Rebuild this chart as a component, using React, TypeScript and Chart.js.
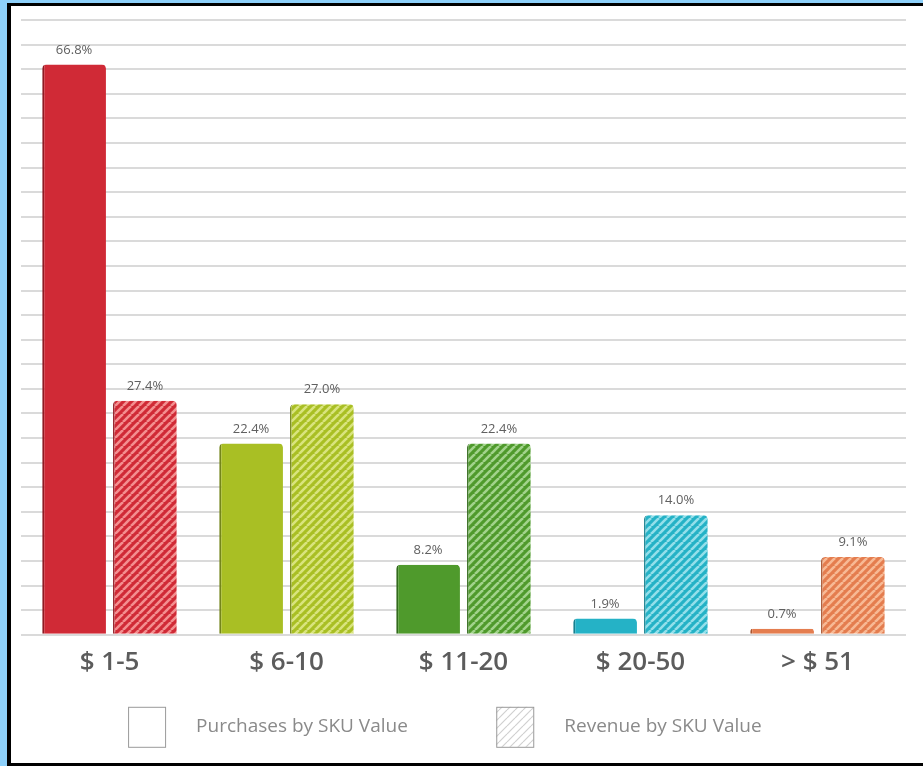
import React, { useEffect, useRef } from "react";
import { Chart, registerables } from "chart.js";

Chart.register(...registerables);

const categories = ["$ 1-5", "$ 6-10", "$ 11-20", "$ 20-50", "> $ 51"];
const purchases = [66.8, 22.4, 8.2, 1.9, 0.7];
const revenue = [27.4, 27.0, 22.4, 14.0, 9.1];
const seriesNames = ["Purchases by SKU Value", "Revenue by SKU Value"];

const baseColors = ["#d02a36", "#a9bf24", "#4f9a2c", "#25b2c6", "#e47d4f"];
const stripeColors = ["#f38f90", "#d9e47e", "#a2d38c", "#94dfea", "#f7b995"];
const edgeColors = ["#8e1a22", "#74851a", "#326a1c", "#17808f", "#a9552f"];

const Y_MAX = 72;
const GRID_STEPS = 25;

function hatch(base: string, stripe: string, lw: number, size = 9): CanvasPattern | string {
  const c = document.createElement("canvas");
  c.width = size;
  c.height = size;
  const ctx = c.getContext("2d");
  if (!ctx) return base;
  ctx.fillStyle = base;
  ctx.fillRect(0, 0, size, size);
  ctx.strokeStyle = stripe;
  ctx.lineWidth = lw;
  for (const off of [-size, 0, size]) {
    ctx.beginPath();
    ctx.moveTo(off, size);
    ctx.lineTo(off + size, 0);
    ctx.stroke();
  }
  return ctx.createPattern(c, "repeat") || base;
}

export default function App() {
  const ref = useRef<HTMLCanvasElement | null>(null);

  useEffect(() => {
    if (!ref.current) return;
    const revPatterns = baseColors.map((b, i) => hatch(b, stripeColors[i], 2.6, 8));
    const legendPattern = hatch("#ffffff", "#d0d0d0", 1.2, 8);

    const valueLabels = {
      id: "valueLabels",
      afterDatasetsDraw(chart: any) {
        const ctx = chart.ctx;
        ctx.save();
        ctx.font = "13px 'Open Sans'";
        ctx.fillStyle = "#606060";
        ctx.textAlign = "center";
        ctx.textBaseline = "bottom";
        chart.data.datasets.forEach((ds: any, di: number) => {
          const meta = chart.getDatasetMeta(di);
          meta.data.forEach((el: any, i: number) => {
            const v = ds.data[i] as number;
            ctx.fillText(v.toFixed(1) + "%", el.x, el.y - 8);
          });
        });
        ctx.restore();
      },
    };

    const customLegend = {
      id: "customLegend",
      afterDraw(chart: any) {
        const ctx = chart.ctx;
        const a = chart.chartArea;
        const w = a.right - a.left;
        const top = a.bottom + 72;
        const bw = 37;
        const bh = 40;
        const xs = [a.left + w * 0.121, a.left + w * 0.537];
        ctx.save();
        xs.forEach((x, i) => {
          ctx.fillStyle = i === 0 ? "#ffffff" : legendPattern;
          ctx.fillRect(x, top, bw, bh);
          ctx.strokeStyle = "#9a9a9a";
          ctx.lineWidth = 1;
          ctx.strokeRect(x + 0.5, top + 0.5, bw, bh);
          ctx.font = "19px 'Open Sans'";
          ctx.fillStyle = "#8a8a8a";
          ctx.textAlign = "left";
          ctx.textBaseline = "middle";
          ctx.fillText(seriesNames[i], x + bw + 31, top + bh / 2);
        });
        ctx.restore();
      },
    };

    const chart = new Chart(ref.current, {
      type: "bar",
      data: {
        labels: categories,
        datasets: [
          {
            label: seriesNames[0],
            data: purchases,
            backgroundColor: baseColors,
            borderColor: edgeColors,
            borderWidth: { left: 2, top: 0, right: 0, bottom: 0 },
            borderRadius: { topLeft: 4, topRight: 4, bottomLeft: 0, bottomRight: 0 },
            borderSkipped: false,
            categoryPercentage: 0.8,
            barPercentage: 0.9,
          },
          {
            label: seriesNames[1],
            data: revenue,
            backgroundColor: revPatterns as any,
            borderColor: edgeColors,
            borderWidth: { left: 1.5, top: 0, right: 0, bottom: 0 },
            borderRadius: { topLeft: 4, topRight: 4, bottomLeft: 0, bottomRight: 0 },
            borderSkipped: false,
            categoryPercentage: 0.8,
            barPercentage: 0.9,
          },
        ],
      },
      options: {
        animation: false,
        responsive: false,
        devicePixelRatio: 1,
        layout: { padding: { left: 10, right: 17, top: 14, bottom: 81 } },
        plugins: {
          legend: { display: false },
          tooltip: { enabled: false },
        },
        scales: {
          x: {
            grid: { display: false },
            border: { display: false },
            ticks: {
              color: "#5c5c5c",
              font: { family: "'Open Sans'", size: 26, weight: "600" },
              padding: 4,
            },
          },
          y: {
            min: 0,
            max: Y_MAX,
            afterBuildTicks(axis: any) {
              axis.ticks = Array.from({ length: GRID_STEPS + 1 }, (_, i) => ({
                value: (i * Y_MAX) / GRID_STEPS,
              }));
            },
            ticks: { display: false },
            grid: { color: "#dadada", lineWidth: 2, drawTicks: false },
            border: { display: false },
          },
        },
      },
      plugins: [valueLabels, customLegend],
    });
    return () => chart.destroy();
  }, []);

  return (
    <div
      style={{
        position: "fixed",
        left: 0,
        top: 0,
        width: 923,
        height: 766,
        background: "#8dd0fa",
      }}
    >
      <div
        style={{
          position: "absolute",
          left: 7,
          top: 3,
          width: 912,
          height: 757,
          borderLeft: "4px solid #000",
          borderTop: "3px solid #000",
          borderBottom: "3px solid #000",
          background: "#ffffff",
        }}
      >
        <canvas ref={ref} width={912} height={757} style={{ display: "block" }} />
      </div>
    </div>
  );
}
